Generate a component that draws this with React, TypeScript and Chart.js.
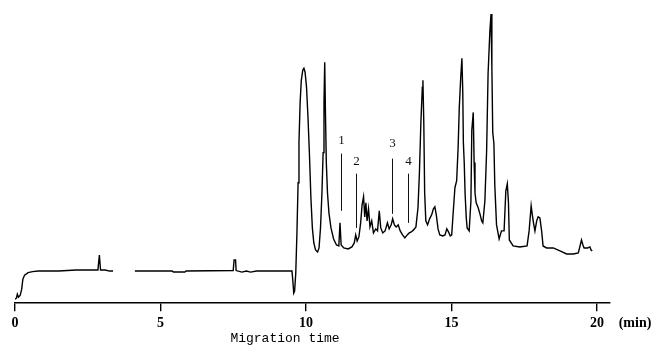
import React, { useEffect, useRef } from "react";
import { Chart, registerables } from "chart.js";
Chart.register(...registerables);

// Migration time (min)
const times: number[] = [
  0, 0.05, 0.08, 0.12, 0.18, 0.23, 0.27, 0.33, 0.45, 0.6, 0.8, 1.5, 2.1, 2.85, 2.9, 2.94, 3.1, 3.25, 3.37,
  3.5, 4.12, 5.4, 5.45, 5.84, 5.88, 7.5, 7.53, 7.58, 7.6, 7.8, 7.95, 8.1, 8.3, 8.6, 9.52,
  9.55, 9.58, 9.61, 9.65, 9.69, 9.73, 9.76, 9.8, 9.84, 9.89, 9.93, 9.97, 10.02, 10.07, 10.12, 10.17, 10.22,
  10.27, 10.33, 10.4, 10.45, 10.5, 10.55, 10.59, 10.62, 10.645, 10.67, 10.7, 10.74, 10.79, 10.86, 10.95,
  11.05, 11.13, 11.17, 11.21, 11.3, 11.45, 11.58, 11.66, 11.71, 11.76, 11.82, 11.88, 11.93, 11.98, 12.02,
  12.06, 12.1, 12.15, 12.2, 12.26, 12.32, 12.4, 12.46, 12.52, 12.57, 12.64, 12.72, 12.8, 12.86, 12.93,
  12.98, 13.04, 13.1, 13.17, 13.24, 13.32, 13.4, 13.48, 13.55, 13.62, 13.7, 13.78, 13.85, 13.9, 13.95,
  14.0, 14.02, 14.05, 14.08, 14.12, 14.18, 14.25, 14.32, 14.38, 14.43, 14.48, 14.54, 14.6, 14.7, 14.78,
  14.84, 14.9, 14.96, 15.01, 15.06, 15.12, 15.18, 15.23, 15.27, 15.32, 15.36, 15.39, 15.41, 15.44, 15.47,
  15.51, 15.54, 15.61, 15.67, 15.7, 15.75, 15.78, 15.81, 15.85, 15.92, 15.98, 16.04, 16.08, 16.15, 16.21,
  16.26, 16.32, 16.36, 16.39, 16.42, 16.46, 16.49, 16.55, 16.64, 16.72, 16.81, 16.87, 16.92, 16.96, 16.99,
  17.12, 17.35, 17.6, 17.67, 17.74, 17.78, 17.82, 17.87, 17.93, 17.98, 18.04, 18.1, 18.15, 18.27, 18.5,
  18.73, 18.96, 19.19, 19.36, 19.42, 19.47, 19.52, 19.56, 19.68, 19.76, 19.8, 19.84,
];

// Detector signal (arbitrary units); null = break in the trace
const signal: (number | null)[] = [
  4, 5, 9, 6, 8, 14, 24, 28, 30.5, 31.5, 32, 32, 33, 33, 48, 33, 33, 32, 32,
  null, 32, 32, 31, 31, 32, 32.5, 43, 43, 32.5, 31, 32, 31, 32, 32, 32,
  22, 10, 12, 30, 70, 120, 160, 200, 222, 232, 234, 230, 215, 185, 148, 105, 75,
  60, 53, 51, 55, 75, 110, 150, 200, 240, 190, 140, 110, 90, 75, 64,
  58, 57, 80, 58, 55, 54, 56, 60, 68, 62, 66, 80, 98, 106, 86,
  100, 82, 94, 76, 82, 70, 74, 72, 92, 75, 70, 72, 80, 74, 78,
  84, 78, 76, 78, 72, 68, 65, 68, 70, 71, 73, 76, 95, 130, 180,
  215, 222, 180, 110, 82, 78, 84, 88, 94, 96, 88, 74, 68, 67, 68,
  74, 71, 67, 68, 90, 115, 122, 155, 195, 225, 244, 210, 160, 140, 109,
  85, 75, 72, 102, 172, 190, 140, 110, 100, 95, 89, 82, 80, 102, 152,
  229, 270, 288, 235, 170, 159, 118, 78, 64, 72, 72, 112, 119, 100, 63,
  57, 56, 57, 72, 97, 88, 80, 72, 82, 86, 85, 72, 57, 55, 55,
  52, 49, 49, 50, 57, 63, 58, 55, 55, 56, 53, 52,
];

const xTicks: number[] = [0, 5, 10, 15, 20];
const xUnit = "(min)";
const xTitle = "Migration time";

const peakLabels: string[] = ["1", "2", "3", "4"];
const peakTimes: number[] = [11.2, 11.72, 12.96, 13.5];
const markerTop: number[] = [149, 129, 144, 129];
const markerBottom: number[] = [92, 75, 89, 80];
const labelLevel: number[] = [162, 141, 159, 141];

export default function App() {
  const ref = useRef<HTMLCanvasElement>(null);
  useEffect(() => {
    if (!ref.current) return;
    const annot = {
      id: "annot",
      afterDraw(chart: any) {
        const ctx = chart.ctx;
        const xs = chart.scales.x;
        const ys = chart.scales.y;
        ctx.save();
        ctx.strokeStyle = "#111";
        ctx.fillStyle = "#111";
        ctx.lineWidth = 1;
        ctx.textAlign = "center";
        ctx.textBaseline = "middle";
        ctx.font = "13px 'Liberation Serif'";
        peakLabels.forEach((lab, i) => {
          const px = Math.round(xs.getPixelForValue(peakTimes[i])) + 0.5;
          ctx.beginPath();
          ctx.moveTo(px, ys.getPixelForValue(markerTop[i]));
          ctx.lineTo(px, ys.getPixelForValue(markerBottom[i]));
          ctx.stroke();
          ctx.fillText(lab, px, ys.getPixelForValue(labelLevel[i]));
        });
        const ca = chart.chartArea;
        ctx.font = "bold 14px 'Liberation Serif'";
        ctx.fillStyle = "#000";
        ctx.fillText(xUnit, ca.right + 25, ca.bottom + 20);
        ctx.font = "13px 'Liberation Mono'";
        ctx.fillText(xTitle, ca.left + 270, ca.bottom + 35);
        ctx.restore();
      },
    };
    const chart = new Chart(ref.current, {
      type: "line",
      data: {
        datasets: [
          {
            data: times.map((t, i) => ({ x: t, y: signal[i] })) as any,
            borderColor: "#000",
            borderWidth: 1.4,
            pointRadius: 0,
            tension: 0,
            spanGaps: false,
            fill: false,
          },
        ],
      },
      options: {
        animation: false,
        responsive: false,
        layout: { padding: { left: 15, right: 48, top: 12, bottom: 17 } },
        plugins: { legend: { display: false }, tooltip: { enabled: false } },
        scales: {
          x: {
            type: "linear",
            min: 0,
            max: 20.45,
            border: { display: true, color: "#000", width: 1.6 },
            grid: { display: true, drawOnChartArea: false, drawTicks: true, tickLength: 8, color: "#000", lineWidth: 1.4 },
            ticks: {
              includeBounds: false,
              autoSkip: false,
              maxRotation: 0,
              padding: 4,
              color: "#000",
              font: { family: "'Liberation Serif'", size: 14, weight: "bold" },
              callback: (v: any) => String(v),
            },
            afterBuildTicks: (axis: any) => {
              axis.ticks = xTicks.map((v) => ({ value: v }));
            },
          },
          y: { display: false, min: 0, max: 290 },
        },
      },
      plugins: [annot],
    });
    return () => chart.destroy();
  }, []);
  return (
    <div style={{ position: "fixed", left: 0, top: 0, width: 658, height: 353, background: "#fff" }}>
      <canvas ref={ref} width={658} height={353} style={{ width: 658, height: 353 }} />
    </div>
  );
}
